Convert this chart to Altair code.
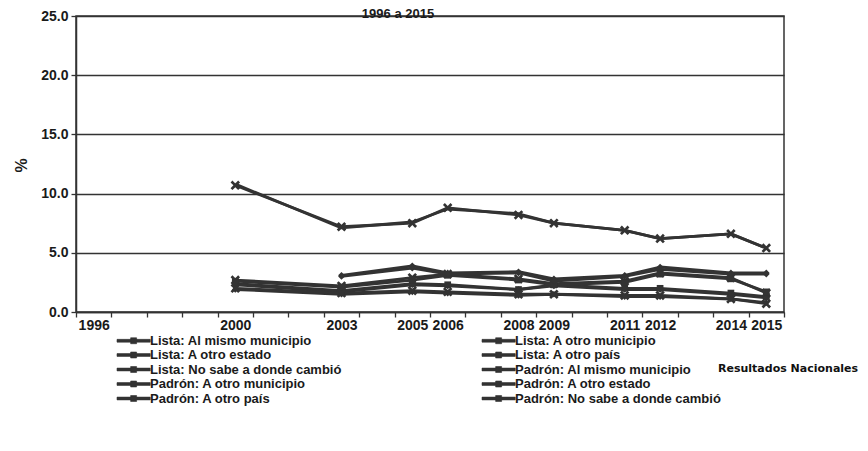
import altair as alt
import pandas as pd

years = [2000, 2003, 2005, 2006, 2008, 2009, 2011, 2012, 2014, 2015]
label_years = [1996, 2000, 2003, 2005, 2006, 2008, 2009, 2011, 2012, 2014, 2015]
half_ticks = [1995.5 + i for i in range(21)]

series_names = [
    "Lista: Al mismo municipio",
    "Lista: A otro municipio",
    "Lista: A otro estado",
    "Lista: A otro país",
    "Lista: No sabe a donde cambió",
    "Padrón: Al mismo municipio",
    "Padrón: A otro municipio",
    "Padrón: A otro estado",
    "Padrón: A otro país",
    "Padrón: No sabe a donde cambió",
]
# order in which the legend lists them (two columns, filled column by column)
legend_order = [
    "Lista: Al mismo municipio",
    "Lista: A otro estado",
    "Lista: No sabe a donde cambió",
    "Padrón: A otro municipio",
    "Padrón: A otro país",
    "Lista: A otro municipio",
    "Lista: A otro país",
    "Padrón: Al mismo municipio",
    "Padrón: A otro estado",
    "Padrón: No sabe a donde cambió",
]

lista_mismo_mun = [2.4, 1.8, 2.4, 2.3, 1.9, 2.3, 2.0, 2.0, 1.6, 1.3]
lista_otro_mun = [10.8, 7.1, 7.6, 8.7, 8.3, 7.5, 6.9, 6.2, 6.6, 5.4]
lista_otro_estado = [2.7, 2.2, 2.9, 3.2, 2.8, 2.4, 2.6, 3.3, 2.9, 1.6]
lista_otro_pais = [1.9, 1.5, 1.7, 1.6, 1.4, 1.5, 1.3, 1.3, 1.1, 0.8]
lista_no_sabe = [None, 3.1, 3.9, 3.3, 3.4, 2.8, 3.1, 3.8, 3.3, 3.3]
padron_mismo_mun = [2.3, 1.7, 2.3, 2.2, 1.9, 2.2, 1.9, 1.9, 1.5, 1.2]
padron_otro_mun = [10.7, 7.2, 7.5, 8.8, 8.2, 7.5, 6.9, 6.2, 6.6, 5.4]
padron_otro_estado = [2.6, 2.1, 2.7, 3.1, 2.7, 2.3, 2.5, 3.2, 2.8, 1.7]
padron_otro_pais = [2.0, 1.6, 1.8, 1.7, 1.5, 1.5, 1.4, 1.4, 1.1, 0.7]
padron_no_sabe = [None, 3.0, 3.7, 3.2, 3.3, 2.6, 3.0, 3.6, 3.2, 3.2]

all_values = [
    lista_mismo_mun, lista_otro_mun, lista_otro_estado, lista_otro_pais, lista_no_sabe,
    padron_mismo_mun, padron_otro_mun, padron_otro_estado, padron_otro_pais, padron_no_sabe,
]

XPATH = "M-1,-0.6L-0.6,-1L0,-0.4L0.6,-1L1,-0.6L0.4,0L1,0.6L0.6,1L0,0.4L-0.6,1L-1,0.6L-0.4,0Z"
shapes = ["square", "circle", XPATH, "diamond", "diamond",
          "diamond", XPATH, "square", XPATH, "diamond"]
sizes = [45, 0, 90, 45, 45, 45, 90, 45, 90, 45]

rows = []
for name, vals, sz in zip(series_names, all_values, sizes):
    for y, v in zip(years, vals):
        if v is not None:
            rows.append({"year": y, "value": v, "series": name, "marker": name, "msize": sz})
df = pd.DataFrame(rows)

INK = "#333333"
TXT = "#1a1a1a"
FONT = "Liberation Sans"

legend_symbol = "M-1,-0.4L8.5,-0.4L8.5,0.4L-1,0.4Z M2.9,-0.85L4.6,-0.85L4.6,0.85L2.9,0.85Z"

xscale = alt.Scale(domain=[1995.5, 2015.5], nice=False, zero=False)

x_lab = alt.X(
    "year:Q",
    scale=xscale,
    axis=alt.Axis(
        orient="bottom",
        values=label_years,
        format="d",
        ticks=False,
        tickSize=0,
        labelOverlap=False,
        labelPadding=6,
        labelFont=FONT,
        labelFontSize=14,
        labelFontWeight="bold",
        labelColor=TXT,
        domainColor=INK,
        domainWidth=1.5,
        grid=False,
        title=None,
    ),
)
x_tick = alt.X(
    "year:Q",
    scale=xscale,
    axis=alt.Axis(
        orient="bottom",
        values=half_ticks,
        labels=False,
        domain=False,
        tickSize=5,
        tickColor=INK,
        tickWidth=1.3,
        grid=False,
        title=None,
    ),
)
y_enc = alt.Y(
    "value:Q",
    scale=alt.Scale(domain=[0, 25], nice=False),
    axis=alt.Axis(
        values=[0, 5, 10, 15, 20, 25],
        format=".1f",
        tickSize=5,
        tickColor=INK,
        tickWidth=1.3,
        labelPadding=3,
        labelFont=FONT,
        labelFontSize=14,
        labelFontWeight="bold",
        labelColor=TXT,
        domainColor=INK,
        domainWidth=1.5,
        grid=True,
        gridColor=INK,
        gridWidth=1.5,
        title="%",
        titleFont=FONT,
        titleFontSize=16,
        titleFontWeight="bold",
        titleColor=TXT,
        titleAngle=270,
        titleX=-47,
        titleY=149,
    ),
)

lines = alt.Chart(df).mark_line(strokeWidth=2.8, strokeJoin="round").encode(
    x=x_lab,
    y=y_enc,
    color=alt.Color(
        "series:N",
        scale=alt.Scale(domain=legend_order, range=[INK] * len(legend_order)),
        sort=legend_order,
        legend=alt.Legend(
            orient="none",
            legendX=38,
            legendY=318,
            columns=2,
            title=None,
            symbolType=legend_symbol,
            symbolSize=49,
            symbolFillColor=INK,
            symbolStrokeColor=INK,
            symbolStrokeWidth=0.6,
            labelOffset=23,
            labelFont=FONT,
            labelFontSize=13,
            labelFontWeight="bold",
            labelColor=TXT,
            labelLimit=300,
            columnPadding=137,
            rowPadding=0.5,
        ),
    ),
    detail="series:N",
)

points = alt.Chart(df).transform_filter(
    alt.datum.msize > 0
).mark_point(filled=True, opacity=1, color=INK).encode(
    x=x_tick,
    y="value:Q",
    shape=alt.Shape("marker:N", scale=alt.Scale(domain=series_names, range=shapes), legend=None),
    size=alt.Size("msize:Q", scale=None, legend=None),
)

title_df = pd.DataFrame({"t": ["1996 a 2015"]})
title_txt = alt.Chart(title_df).mark_text(
    align="center", baseline="alphabetic", font=FONT, fontSize=13,
    fontWeight="bold", color=TXT
).encode(x=alt.value(322), y=alt.value(1.5), text="t:N")

note_df = pd.DataFrame({"t": ["Resultados Nacionales"]})
note = alt.Chart(note_df).mark_text(
    align="left", baseline="middle", font="DejaVu Sans", fontSize=11,
    fontWeight="bold", color="#111111"
).encode(x=alt.value(642), y=alt.value(353), text="t:N")

chart = alt.layer(lines, points, title_txt, note).resolve_axis(x="independent").properties(
    width=708,
    height=296,
    autosize=alt.AutoSizeParams(type="none"),
    padding={"left": 68, "top": 8, "right": 76, "bottom": 131},
).configure_view(stroke=INK, strokeWidth=1.5)

chart.save("out.html", embed_options={"renderer": "svg", "actions": False})
